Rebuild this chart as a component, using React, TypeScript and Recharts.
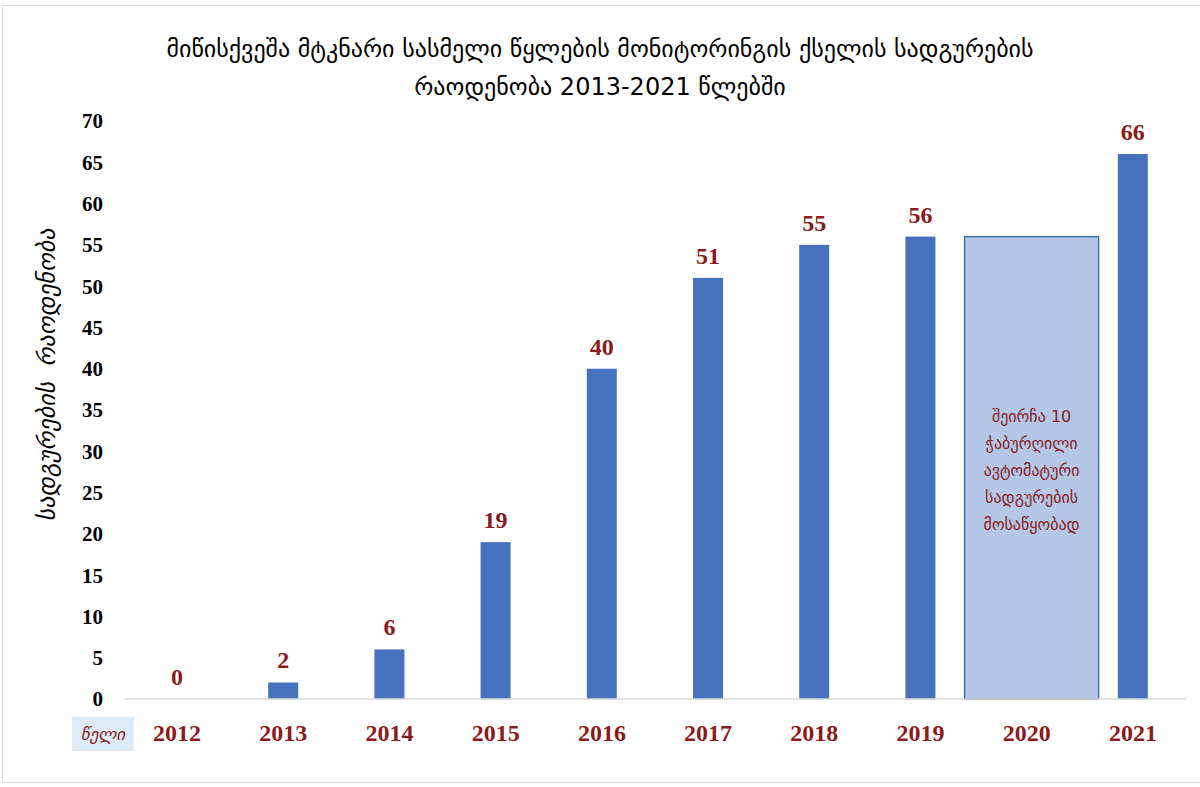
import { BarChart, Bar, XAxis, YAxis, LabelList } from "recharts";

const years = ["2012", "2013", "2014", "2015", "2016", "2017", "2018", "2019", "2020", "2021"];
const stations = [0, 2, 6, 19, 40, 51, 55, 56, null, 66];
const planned = [null, null, null, null, null, null, null, null, 56, null];
const yTicks = [0, 5, 10, 15, 20, 25, 30, 35, 40, 45, 50, 55, 60, 65, 70];

const titleLines = [
  "მიწისქვეშა მტკნარი სასმელი წყლების მონიტორინგის ქსელის სადგურების",
  "რაოდენობა 2013-2021 წლებში",
];
const yLabel = "სადგურების  რაოდენობა";
const xLabel = "წელი";
const noteLines = ["შეირჩა 10", "ჭაბურღილი", "ავტომატური", "სადგურების", "მოსაწყობად"];

const data = years.map((year, i) => ({
  year,
  stations: stations[i],
  planned: planned[i],
  height: stations[i] ?? planned[i],
}));

const RED = "#8B1A1A";
const BLUE = "#4672BD";
const geo = "'DejaVu Sans', sans-serif";
const num = "'Liberation Serif', 'DejaVu Serif', serif";

// the 2020 column is a wide placeholder box with a note inside
const BarShape = (props: any) => {
  const { x, y, width, height, payload } = props;
  if (payload.planned != null) {
    const cx = x + width / 2 + 5;
    const w = 134;
    const midY = y + height / 2 + 4;
    return (
      <g>
        <rect x={cx - w / 2} y={y} width={w} height={height} fill="#B4C7E7" stroke="#41719C" strokeWidth={1.5} />
        {noteLines.map((line, i) => (
          <text
            key={i}
            x={cx}
            y={midY + (i - (noteLines.length - 1) / 2) * 27}
            textAnchor="middle"
            dominantBaseline="middle"
            fill={RED}
            fontSize={16}
            fontFamily={geo}
          >
            {line}
          </text>
        ))}
      </g>
    );
  }
  return <rect x={x} y={y} width={width} height={height} fill={BLUE} />;
};

const ValueLabel = (props: any) => {
  const { x, y, width, value } = props;
  if (value == null) return null;
  return (
    <text x={x + width / 2} y={y - 14} textAnchor="middle" fill={RED} fontSize={24} fontWeight={700} fontFamily={num}>
      {value}
    </text>
  );
};

export default function App() {
  return (
    <div
      style={{
        position: "absolute",
        left: 0,
        top: 0,
        width: 1200,
        height: 787,
        background: "#fff",
        overflow: "hidden",
      }}
    >
      <div
        style={{
          position: "absolute",
          left: 2,
          top: 5,
          width: 1200,
          height: 778,
          border: "1px solid #D9D9D9",
          boxSizing: "border-box",
        }}
      />
      <div
        style={{
          position: "absolute",
          left: 0,
          width: 1200,
          top: 30,
          textAlign: "center",
          fontFamily: geo,
          fontSize: 24,
          lineHeight: "38px",
          color: "#000",
        }}
      >
        {titleLines.map((t) => (
          <div key={t}>{t}</div>
        ))}
      </div>
      <div
        style={{
          position: "absolute",
          left: 47,
          top: 375,
          transform: "translate(-50%, -50%) rotate(-90deg)",
          whiteSpace: "pre",
          fontFamily: geo,
          fontStyle: "italic",
          fontSize: 24,
          color: "#000",
        }}
      >
        {yLabel}
      </div>
      <div
        style={{
          position: "absolute",
          left: 72,
          top: 717,
          width: 62,
          height: 34,
          background: "#DDEBF7",
          color: RED,
          fontFamily: geo,
          fontStyle: "italic",
          fontSize: 17,
          lineHeight: "34px",
          textAlign: "center",
        }}
      >
        {xLabel}
      </div>
      <div style={{ position: "absolute", left: 0, top: 0 }}>
        <BarChart
          width={1200}
          height={787}
          data={data}
          margin={{ top: 121, right: 14, bottom: 48, left: 64 }}
          accessibilityLayer={false}
        >
          <XAxis
            dataKey="year"
            height={40}
            axisLine={{ stroke: "#D9D9D9", strokeWidth: 1.5 }}
            tickLine={false}
            tickSize={0}
            tickMargin={25}
            tick={{ fill: RED, fontSize: 24, fontWeight: 700, fontFamily: num }}
            interval={0}
          />
          <YAxis
            width={60}
            domain={[0, 70]}
            ticks={yTicks}
            axisLine={false}
            tickLine={false}
            tickSize={0}
            tickMargin={21}
            tick={{ fill: "#000", fontSize: 21, fontWeight: 700, fontFamily: num }}
          />
          <Bar dataKey="height" barSize={30} shape={<BarShape />} isAnimationActive={false}>
            <LabelList dataKey="stations" content={<ValueLabel />} />
          </Bar>
        </BarChart>
      </div>
    </div>
  );
}
